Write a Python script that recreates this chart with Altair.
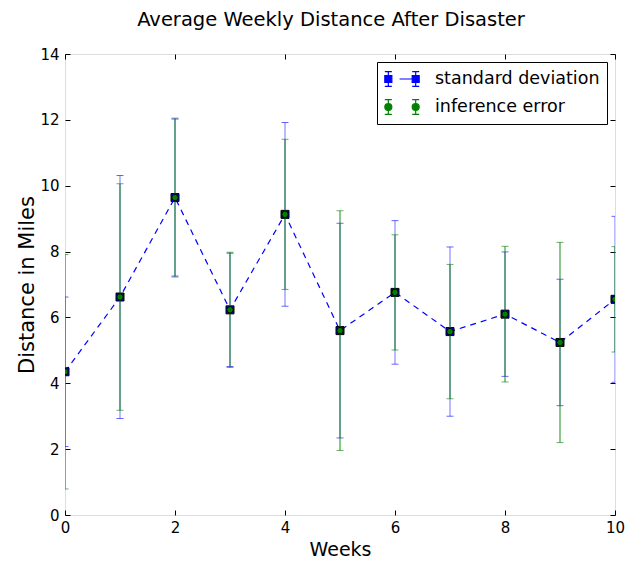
import altair as alt
import pandas as pd

weeks = [0, 1, 2, 3, 4, 5, 6, 7, 8, 9, 10]
mean_distance = [4.35, 6.62, 9.64, 6.23, 9.13, 5.60, 6.76, 5.57, 6.10, 5.24, 6.55]
std_dev = [2.27, 3.69, 2.41, 1.72, 2.79, 3.26, 2.18, 2.57, 1.89, 1.92, 2.52]
inference_err = [3.56, 3.44, 2.38, 1.75, 2.28, 3.64, 1.75, 2.04, 2.06, 3.04, 1.60]
series_names = ["standard deviation", "inference error"]
x_ticks = [0, 2, 4, 6, 8, 10]
y_ticks = [0, 2, 4, 6, 8, 10, 12, 14]

BLUE = "#0000ff"
GREEN = "#008000"
FONT = "DejaVu Sans"

df = pd.DataFrame({"week": weeks, "mean": mean_distance, "std": std_dev, "ierr": inference_err})

base = alt.Chart(df).transform_calculate(
    s_lo="datum.mean - datum.std",
    s_hi="datum.mean + datum.std",
    i_lo="datum.mean - datum.ierr",
    i_hi="datum.mean + datum.ierr",
)

xs = alt.Scale(domain=[0, 10], nice=False, zero=False)
ys = alt.Scale(domain=[0, 14], nice=False, zero=False)

def xq(field="week", axis=None):
    return alt.X(f"{field}:Q", scale=xs, axis=axis)

def yq(field, axis=None):
    return alt.Y(f"{field}:Q", scale=ys, axis=axis)

tick_style = dict(domain=False, grid=False, tickColor="black", tickSize=5, offset=-5)
label_style = dict(labelFont=FONT, labelFontSize=15, labelColor="black", labelFlush=False,
                   titleFont=FONT, titleFontWeight="normal", titleColor="black")

bottom_axis = alt.Axis(orient="bottom", values=x_ticks, labelPadding=5, title="Weeks",
                       titleFontSize=19, titlePadding=5, **tick_style, **label_style)
left_axis = alt.Axis(orient="left", values=y_ticks, labelPadding=6, title="Distance in Miles",
                     titleFontSize=21, titlePadding=2, **tick_style, **label_style)
top_axis = alt.Axis(orient="top", values=x_ticks, labels=False, title=None, **tick_style)
right_axis = alt.Axis(orient="right", values=y_ticks, labels=False, title=None, **tick_style)

line = base.mark_line(color=BLUE, strokeDash=[6, 5], strokeWidth=1.2, clip=True).encode(
    x=alt.X("week:Q", scale=xs, axis=bottom_axis),
    y=alt.Y("mean:Q", scale=ys, axis=left_axis),
)

s_bar = base.mark_rule(color=BLUE, opacity=0.55, strokeWidth=1, clip=True).encode(
    x=xq(), y=yq("s_lo"), y2="s_hi:Q")
s_cap_lo = base.mark_tick(orient="horizontal", size=7, thickness=1, color=BLUE, opacity=0.6, clip=True).encode(
    x=xq(), y=yq("s_lo"))
s_cap_hi = base.mark_tick(orient="horizontal", size=7, thickness=1, color=BLUE, opacity=0.6, clip=True).encode(
    x=xq(), y=yq("s_hi"))
squares = base.mark_square(size=64, fill=BLUE, stroke="black", strokeWidth=1, opacity=1, clip=True).encode(
    x=alt.X("week:Q", scale=xs, axis=top_axis),
    y=alt.Y("mean:Q", scale=ys, axis=right_axis),
)

i_bar = base.mark_rule(color=GREEN, opacity=0.6, strokeWidth=1.5, clip=True).encode(
    x=xq(), y=yq("i_lo"), y2="i_hi:Q")
i_cap_lo = base.mark_tick(orient="horizontal", size=7, thickness=1, color=GREEN, opacity=0.6, clip=True).encode(
    x=xq(), y=yq("i_lo"))
i_cap_hi = base.mark_tick(orient="horizontal", size=7, thickness=1, color=GREEN, opacity=0.6, clip=True).encode(
    x=xq(), y=yq("i_hi"))
circles = base.mark_circle(size=42, fill=GREEN, stroke="black", strokeWidth=1, opacity=1, clip=True).encode(
    x=xq(), y=yq("mean"))

# legend glyphs: custom symbol paths, 1 unit = 9 px (symbol size 324), drawn shifted right
bars = ("M-0.63,-0.83 V0.83 M-1.02,-0.83 H-0.24 M-1.02,0.83 H-0.24 "
        "M2.41,-0.83 V0.83 M2.02,-0.83 H2.80 M2.02,0.83 H2.80 ")
std_glyph = bars + ("M0.62,0 H2.02 "
                    "M-1.02,-0.39 H-0.24 V0.39 H-1.02 Z "
                    "M2.02,-0.39 H2.80 V0.39 H2.02 Z")
inf_glyph = bars + ("M-1.02,0 A0.39,0.39 0 1,0 -0.24,0 A0.39,0.39 0 1,0 -1.02,0 Z "
                    "M2.02,0 A0.39,0.39 0 1,0 2.80,0 A0.39,0.39 0 1,0 2.02,0 Z")

leg = alt.Legend(title=None, orient="top-right", offset=8, padding=7, strokeColor="black",
                 fillColor="white", cornerRadius=0, labelFont=FONT, labelFontSize=17.5,
                 labelColor="black", labelLimit=400, labelOffset=31,
                 rowPadding=8, symbolSize=324, symbolStrokeWidth=1.2, symbolOpacity=1)

legend_layer = base.transform_filter("datum.week < -100").mark_point(
    filled=True, strokeWidth=1.2, opacity=1).encode(
    x=xq(), y=yq("mean"),
    color=alt.Color("series:N", scale=alt.Scale(domain=series_names, range=[BLUE, GREEN]), legend=leg),
    stroke=alt.Stroke("series:N", scale=alt.Scale(domain=series_names, range=[BLUE, GREEN]), legend=leg),
    shape=alt.Shape("series:N", scale=alt.Scale(domain=series_names, range=[std_glyph, inf_glyph]), legend=leg),
)

chart = alt.layer(
    line, s_bar, s_cap_lo, s_cap_hi, squares, i_bar, i_cap_lo, i_cap_hi, circles, legend_layer
).resolve_axis(x="independent", y="independent").properties(
    width=550,
    height=461,
    padding={"left": 57, "top": 46, "right": 16, "bottom": 46},
    autosize=alt.AutoSizeParams(type="none"),
    title=alt.Title("Average Weekly Distance After Disaster", font=FONT, fontSize=19.5,
                    fontWeight="normal", color="black", anchor="middle", offset=17, dx=-9),
).configure_view(stroke="black", strokeWidth=1.2).configure(background="white")

chart.save("out.html", embed_options={"renderer": "svg", "actions": False})
